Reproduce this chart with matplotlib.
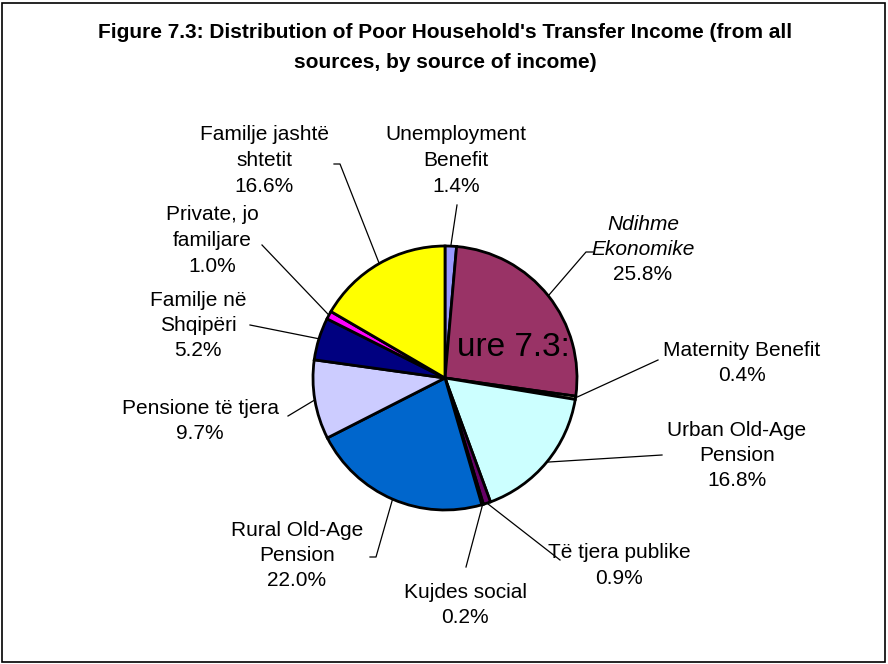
import matplotlib
matplotlib.use('Agg')
import matplotlib.pyplot as plt
import numpy as np

# data
names = ['Unemployment\nBenefit', 'Ndihme\nEkonomike', 'Maternity Benefit',
         'Urban Old-Age\nPension', 'Të tjera publike', 'Kujdes social',
         'Rural Old-Age\nPension', 'Pensione të tjera', 'Familje në\nShqipëri',
         'Private, jo\nfamiljare', 'Familje jashtë\nshtetit']
shares = [1.4, 25.8, 0.4, 16.8, 0.9, 0.2, 22.0, 9.7, 5.2, 1.0, 16.6]
colors = ['#9999FF', '#993366', '#FFFFCC', '#CCFFFF', '#660066', '#FF8080',
          '#0066CC', '#CCCCFF', '#000080', '#FF00FF', '#FFFF00']

W, H = 888, 664
def Y(p):
    return H - p

# label layout: (x, y of first line, end of leader line x, y) in pixels from top
layout = [
    (456, 135, 457, 205),
    (643, 224, 586, 252),
    (742, 350, 658, 360),
    (737, 430, 662, 455),
    (619, 553, 560, 560),
    (465, 592, 466, 567),
    (297, 530, 376, 557),
    (200, 408, 288, 416),
    (198, 300, 250, 325),
    (212, 215, 262, 245),
    (264, 135, 340, 164),
]
# short horizontal tails at the end of some leader lines
tails = [0, 7, 0, 0, 0, 0, -6, 0, 0, 0, -6]

plt.rcParams['font.family'] = ['Liberation Sans', 'DejaVu Sans']
fig = plt.figure(figsize=(8.88, 6.64), dpi=100)
ax = fig.add_axes([0, 0, 1, 1])
ax.set_xlim(0, W)
ax.set_ylim(0, H)
ax.axis('off')

cx, cy, r = 445, Y(378), 132
wedges, _ = ax.pie(shares, colors=colors, startangle=90, counterclock=False,
                   center=(cx, cy), radius=r,
                   wedgeprops=dict(edgecolor='black', linewidth=2))
ax.set_xlim(0, W)
ax.set_ylim(0, H)
ax.set_aspect('equal')

lh = 25.5
for w, name, pct, (lx, ly, ex, ey), tl in zip(wedges, names, shares, layout, tails):
    mid = np.deg2rad((w.theta1 + w.theta2) / 2)
    sx, sy = cx + r * np.cos(mid), cy + r * np.sin(mid)
    ax.plot([sx, ex, ex + tl], [sy, Y(ey), Y(ey)], color='black', lw=0.9, zorder=1)
    lines = name.split('\n') + ['%.1f%%' % pct]
    for i, t in enumerate(lines):
        style = 'italic' if name.startswith('Ndihme') and i < 2 else 'normal'
        ax.text(lx, Y(ly + i * lh), t, ha='center', va='center', fontsize=15,
                style=style)

ax.text(445, Y(33), "Figure 7.3: Distribution of Poor Household's Transfer Income (from all",
        ha='center', va='center', fontsize=15, fontweight='bold')
ax.text(445, Y(62), "sources, by source of income)",
        ha='center', va='center', fontsize=15, fontweight='bold')

ax.text(513, Y(348), 'ure 7.3:', ha='center', va='center', fontsize=24, zorder=5)

ax.add_patch(plt.Rectangle((2, 2), W - 5, H - 5, fill=False, edgecolor='black', lw=1.2))

fig.savefig('out.png', dpi=100)
